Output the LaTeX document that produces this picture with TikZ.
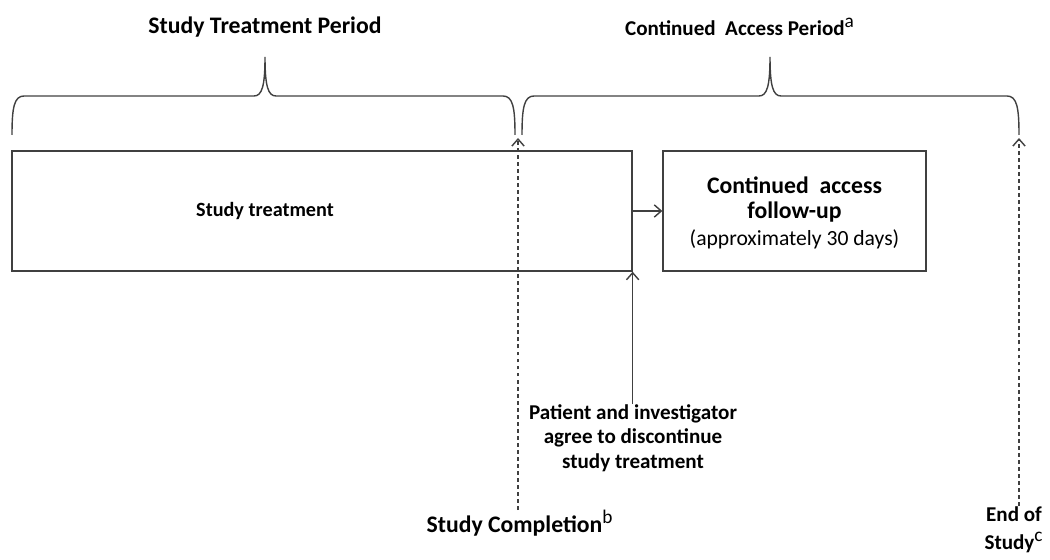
\documentclass[tikz,border=0pt]{standalone}
\usepackage{fontspec}
\setmainfont{Carlito}
\usepackage{tikz}
\usetikzlibrary{arrows.meta, positioning}

\definecolor{linegray}{HTML}{404040}

\tikzset{
	box/.style={draw=linegray, line width=0.8pt, inner sep=0pt},
	lbl/.style={font=\fontsize{12}{14}\selectfont\bfseries, align=center, inner sep=0pt},
	big lbl/.style={lbl, font=\fontsize{13.5}{14.5}\selectfont\bfseries},
	brace line/.style={draw=linegray, line width=0.8pt},
	guide/.style={draw=linegray, line width=0.8pt, dash pattern=on 2.2pt off 1.8pt},
	barb/.style={-{Straight Barb[length=4pt, width=7pt]}}
}

\newcommand{\fn}[1]{\textsuperscript{\mdseries\fontsize{11}{12}\selectfont #1}}

\begin{document}
\begin{tikzpicture}[x=0.02cm, y=-0.02cm]
			\useasboundingbox (0,0) rectangle (1050,560);

			\node[big lbl] (title1) at (265,27) {Study Treatment Period};
			\node[lbl] (title2) at (740,27) {Continued\ \ Access Period\fn{a}};

			\foreach \a/\m/\b in {12/265/515, 522/770/1019}
			{
				\draw[brace line] (\a,135) .. controls (\a,108) and (\a+2,96) .. (\a+12,96)
					-- (\m-11,96) .. controls (\m-3,96) and (\m,86) .. (\m,57)
					.. controls (\m,86) and (\m+3,96) .. (\m+11,96)
					-- (\b-12,96) .. controls (\b-2,96) and (\b,108) .. (\b,135);
			}

			\node[box, minimum width=12.4cm, minimum height=2.4cm] (treat) at (322,211) {};
			\node[lbl, font=\fontsize{11.5}{14}\selectfont\bfseries] (treatlbl) at (265,211) {Study treatment};

			\node[box, minimum width=5.26cm, minimum height=2.4cm] (cafu) at (794.5,211) {};
			\node[big lbl] (cafulbl) at (794.5,213)
				{Continued\ \ access\\follow-up\\[1pt]{\mdseries\fontsize{12.3}{13}\selectfont (approximately 30 days)}};

			\node[lbl, anchor=north] (agree) at (633,404)
				{Patient and investigator\\agree to discontinue\\study treatment};

			\node[big lbl, anchor=north] (compl) at (520,510) {Study Completion\fn{b}};
			\node[lbl, anchor=north] (eos) at (1014,506) {End of\\[2pt]Study\fn{c}};

			\coordinate (gap) at (518,138);
			\coordinate (rend) at (1019,138);

			\begin{scope}[barb]
				\draw[linegray, line width=0.8pt] (treat.east) -- (cafu.west);
				\draw[linegray, line width=0.8pt] (agree.north -| treat.south east) -- (treat.south east);
				\draw[guide] (compl.north -| gap) -- (gap);
				\draw[guide] (eos.north -| rend) -- (rend);
			\end{scope}
		\end{tikzpicture}
\end{document}
